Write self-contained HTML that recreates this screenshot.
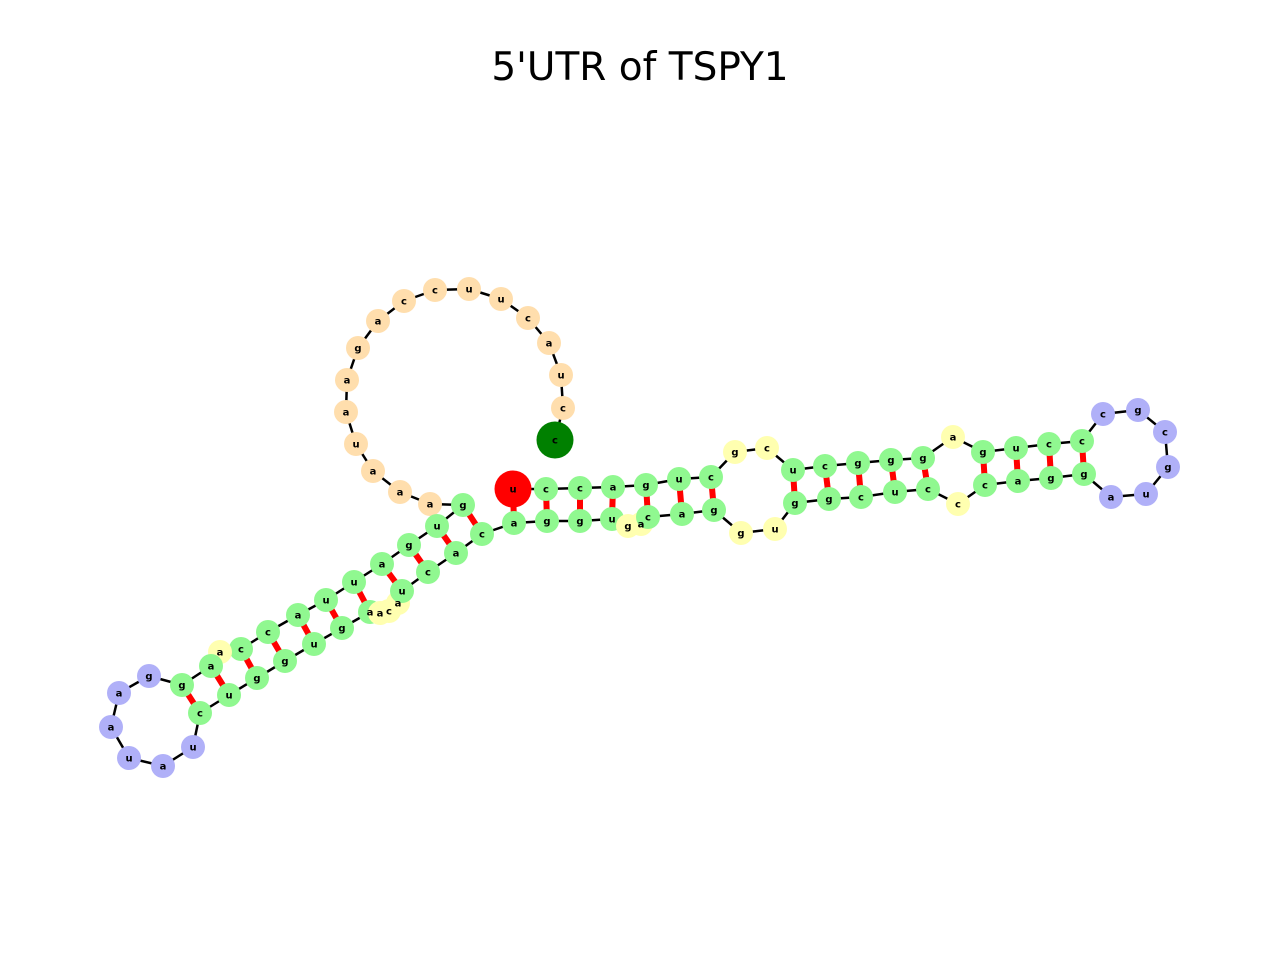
<!DOCTYPE html>
<html><head><meta charset="utf-8"><style>
body{margin:0;background:#fff;}
svg{display:block}
</style></head><body>
<svg id="chart" width="1280" height="960" viewBox="0 0 1280 960">
<text x="640" y="80" text-anchor="middle" font-family="DejaVu Sans, Liberation Sans, sans-serif" font-size="39">5'UTR of TSPY1</text>
<g id="edges"></g><g id="pairs"></g><g id="nodes"></g><g id="labels"></g>
</svg>
<script>
const bases = ["c","c","u","a","c","u","u","c","c","a","g","a","a","u","a","a","a",
"g","u","g","a","u","u","a","c","c","a","a","g","g","a","a","u","a","u","c","u","g","g","u","g",
"a","a","c","a","u","c","a","c","a","g","g","u","g","a","c","a","g","g","u","g","g","c","u","c","c",
"c","a","g","g","a","u","g","c","g","c","c","c","u","g","a","g","g","g","c","u","c","g","c","u","g","a","c","c","u"];
const xs = [555,563,561,549,528,501,469,435,404,378,358,347,346,356,373,400,430,
463,437,409,382,354,326,298,268,241,220,211,182,149,119,111,129,163,193,200,229,257,285,314,342,
370,380,389,398,402,428,456,482,514,547,580,612,628,641,648,682,714,741,775,795,829,861,895,928,958,
985,1018,1051,1084,1111,1146,1168,1165,1138,1103,1082,1049,1016,983,953,923,891,858,825,793,767,735,711,679,646,613,580,546,513];
const ys = [440,408,375,343,318,299,289,290,301,321,348,380,412,444,471,492,504,
505,526,545,564,582,600,615,632,649,652,666,685,676,693,727,758,766,747,713,695,678,661,644,628,
612,613,611,603,591,572,553,534,523,521,521,519,526,524,517,514,510,533,529,503,499,497,492,489,504,
485,481,478,474,497,494,467,432,410,414,441,444,448,452,437,458,460,463,466,470,448,452,477,479,485,487,488,489,489];
const kinds = ["t","s","s","s","s","s","s","s","s","s","s","s","s","s","s","s","s",
"p","p","p","p","p","p","p","p","p","b","p","p","h","h","h","h","h","h","p","p","p","p","p","p",
"p","b","b","b","p","p","p","p","p","p","p","p","b","b","p","p","p","b","b","p","p","p","p","p","b",
"p","p","p","p","h","h","h","h","h","h","p","p","p","p","b","p","p","p","p","p","b","b","p","p","p","p","p","p","e"];
const pairI = [17,18,19,20,21,22,23,24,25,27,28,49,50,51,52,55,56,57,60,61,62,63,64,66,67,68,69];
const pairJ = [48,47,46,45,41,40,39,38,37,36,35,94,93,92,91,90,89,88,85,84,83,82,81,79,78,77,76];
const NS="http://www.w3.org/2000/svg";
const colors={s:"#ffdead",p:"#90f890",b:"#ffffb0",h:"#b0b0f8",t:"#008000",e:"#ff0000"};
const eg=document.getElementById("edges"),pg=document.getElementById("pairs"),ng=document.getElementById("nodes"),lg=document.getElementById("labels");
for(let i=0;i<bases.length-1;i++){
  const l=document.createElementNS(NS,"line");
  
  
  l.setAttribute("x1",xs[i]);l.setAttribute("y1",ys[i]);l.setAttribute("x2",xs[i+1]);l.setAttribute("y2",ys[i+1]);
  l.setAttribute("stroke","#000");l.setAttribute("stroke-width","2.5");
  eg.appendChild(l);
}
for(let k=0;k<pairI.length;k++){
  const a=pairI[k],b=pairJ[k];
  const l=document.createElementNS(NS,"line");
  
  
  l.setAttribute("x1",xs[a]);l.setAttribute("y1",ys[a]);l.setAttribute("x2",xs[b]);l.setAttribute("y2",ys[b]);
  l.setAttribute("stroke","#ff0000");l.setAttribute("stroke-width","6");
  pg.appendChild(l);
}
for(let i=0;i<bases.length;i++){
  const c=document.createElementNS(NS,"circle");
  
  
  const big=kinds[i]==="t"||kinds[i]==="e";
  c.setAttribute("cx",xs[i]);c.setAttribute("cy",ys[i]);c.setAttribute("r",big?18.5:12);
  c.setAttribute("fill",colors[kinds[i]]);
  ng.appendChild(c);
  const t=document.createElementNS(NS,"text");
  
  
  t.setAttribute("x",xs[i]);t.setAttribute("y",ys[i]+3.5);
  t.setAttribute("text-anchor","middle");t.setAttribute("font-size","10");t.setAttribute("font-weight","bold");
  t.setAttribute("font-family","DejaVu Sans, Liberation Sans, sans-serif");
  t.textContent=bases[i];
  lg.appendChild(t);
}
</script>
</body></html>
